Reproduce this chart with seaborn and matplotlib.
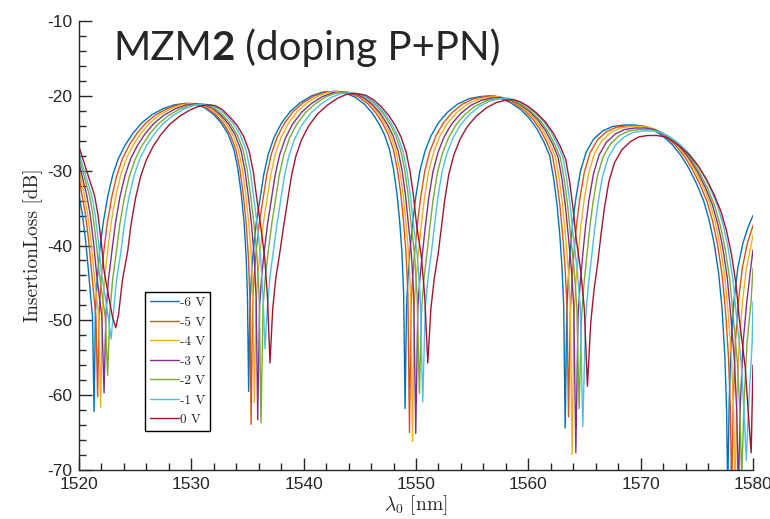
import numpy as np
import pandas as pd
import seaborn as sns
import matplotlib.pyplot as plt
from matplotlib.lines import Line2D
from matplotlib.ticker import MultipleLocator

sns.set_style("ticks")
plt.rcParams["font.family"] = ["Liberation Sans", "DejaVu Sans"]
plt.rcParams["axes.unicode_minus"] = False

voltages = ["-6 V", "-5 V", "-4 V", "-3 V", "-2 V", "-1 V", "0 V"]
colors = ["#0072BD", "#D95319", "#EDB120", "#7E2F8E", "#77AC30", "#4DBEEE", "#A2142F"]

# -6 V trace: (wavelength nm, insertion loss dB)
base_trace = [
    (1520.00, -33.3), (1520.30, -35.8), (1520.60, -39.5), (1520.85, -43.5), (1521.05, -47.0),
    (1521.20, -49.5), (1521.34, -62.2), (1521.46, -49.0), (1521.62, -44.5), (1521.85, -40.6),
    (1522.15, -37.0), (1522.55, -33.5), (1523.00, -30.6), (1523.50, -28.4), (1524.10, -26.6),
    (1524.80, -25.0), (1525.60, -23.6), (1526.50, -22.5), (1527.50, -21.7), (1528.50, -21.2),
    (1529.50, -21.0), (1530.40, -21.1), (1531.20, -21.6), (1532.00, -22.5), (1532.70, -23.7),
    (1533.30, -25.2), (1533.80, -27.2), (1534.15, -29.8), (1534.45, -33.2), (1534.70, -37.0),
    (1534.88, -41.5), (1535.00, -47.0), (1535.10, -59.5), (1535.22, -48.0), (1535.35, -44.0),
    (1535.52, -40.6), (1535.78, -37.0), (1536.10, -33.9), (1536.45, -30.5), (1536.85, -27.8),
    (1537.35, -25.6), (1538.00, -23.7), (1538.80, -22.1), (1539.70, -20.9), (1540.70, -20.0),
    (1541.70, -19.5), (1542.70, -19.4), (1543.70, -19.6), (1544.60, -20.2), (1545.40, -21.1),
    (1546.10, -22.3), (1546.70, -23.7), (1547.20, -25.2), (1547.65, -27.2), (1548.00, -29.8),
    (1548.30, -33.0), (1548.55, -36.8), (1548.75, -41.0), (1548.90, -46.5), (1549.03, -61.8),
    (1549.16, -48.0), (1549.30, -44.0), (1549.47, -40.6), (1549.70, -37.0), (1549.98, -33.5),
    (1550.35, -30.0), (1550.80, -27.4), (1551.35, -25.3), (1552.00, -23.6), (1552.80, -22.2),
    (1553.70, -21.1), (1554.70, -20.4), (1555.70, -20.1), (1556.60, -20.0), (1557.50, -20.3),
    (1558.40, -20.9), (1559.30, -21.8), (1560.10, -23.0), (1560.80, -24.5), (1561.40, -26.2),
    (1561.90, -28.0), (1562.25, -31.0), (1562.55, -34.5), (1562.80, -38.5), (1563.00, -43.0),
    (1563.15, -48.0), (1563.28, -64.4), (1563.42, -49.0), (1563.56, -44.5), (1563.73, -40.6),
    (1563.95, -37.0), (1564.25, -33.5), (1564.65, -30.0), (1565.15, -27.5), (1565.80, -25.8),
    (1566.60, -24.7), (1567.50, -24.1), (1568.50, -23.9), (1569.50, -23.9), (1570.40, -24.1),
    (1571.20, -24.6), (1572.00, -25.4), (1572.80, -26.5), (1573.60, -28.0), (1574.30, -29.7),
    (1575.00, -31.8), (1575.60, -34.0), (1576.10, -36.6), (1576.55, -39.8), (1576.95, -43.8),
    (1577.25, -48.5), (1577.50, -55.0), (1577.65, -62.0), (1577.75, -73.0), (1577.88, -61.0),
    (1578.05, -53.0), (1578.30, -47.5), (1578.65, -43.0), (1579.10, -39.7), (1579.55, -37.6),
    (1580.00, -36.0),
]
base_notch = [1521.34, 1535.10, 1549.03, 1563.28, 1577.75]
base_peak = [1529.5, 1542.7, 1556.6, 1569.0]

# notch positions (nm) and depths (dB) for every bias
notch_wl = {
    "-6 V": [1521.34, 1535.10, 1549.03, 1563.28, 1577.75],
    "-5 V": [1521.66, 1535.32, 1549.42, 1563.58, 1578.10],
    "-4 V": [1521.93, 1535.61, 1549.69, 1563.90, 1578.40],
    "-3 V": [1522.23, 1535.91, 1549.98, 1564.23, 1578.70],
    "-2 V": [1522.55, 1536.20, 1550.30, 1564.52, 1579.00],
    "-1 V": [1522.85, 1536.56, 1550.60, 1564.85, 1579.40],
    "0 V": [1523.27, 1537.00, 1551.05, 1565.26, 1579.84],
}
notch_depth = {
    "-6 V": [-62.2, -59.5, -61.8, -64.4, -73.0],
    "-5 V": [-60.2, -63.9, -65.0, -62.9, -73.0],
    "-4 V": [-61.6, -61.0, -66.2, -67.9, -73.0],
    "-3 V": [-59.7, -63.3, -65.1, -67.7, -73.0],
    "-2 V": [-57.4, -63.7, -59.8, -61.8, -71.0],
    "-1 V": [-52.5, -53.8, -60.9, -64.2, -68.7],
    "0 V": [-51.0, -55.7, -55.7, -58.8, -67.7],
}
# extra half-width of the notches compared with -6 V (nm)
notch_widen = {"-6 V": 0.0, "-5 V": 0.05, "-4 V": 0.12, "-3 V": 0.2,
               "-2 V": 0.28, "-1 V": 0.38, "0 V": 0.55}
# level change of each arc (before notch 1 ... after notch 5) vs -6 V
arc_offset = {
    "-6 V": [0, 0, 0, 0, 0, 0],
    "-5 V": [0, 0, 0, 0, -0.1, 0],
    "-4 V": [0, 0, 0, -0.1, -0.2, 0],
    "-3 V": [0, -0.05, -0.1, -0.2, -0.4, 0],
    "-2 V": [0, -0.1, -0.1, -0.3, -0.6, 0],
    "-1 V": [0, -0.1, -0.2, -0.3, -0.8, 0],
    "0 V": [0, -0.2, -0.3, -0.5, -1.4, 0],
}
edge_left = [-33.3, -30.8, -29.8, -29.0, -28.3, -27.7, -26.8]
edge_right = [-36.0, -37.3, -38.6, -40.6, -43.0, -47.5, -56.0]


def build_trace(v, i):
    wl0, il0 = np.array(base_trace).T
    n0 = np.array(base_notch)
    pk = np.array(base_peak)
    near = np.searchsorted(pk, wl0)          # notch that owns each point
    d = wl0 - n0[near]
    to_peak = np.abs(wl0[:, None] - pk[None, :]).min(axis=1)
    side = np.clip(np.abs(d) / 0.5, 0, 1) * np.clip(to_peak / 2.5, 0, 1) * np.sign(d)
    arc = np.searchsorted(n0, wl0)
    wl = wl0 + (np.array(notch_wl[v]) - n0)[near] + notch_widen[v] * side
    il = il0 + np.array(arc_offset[v])[arc]
    bottom = np.isin(wl0, n0)
    il[bottom] = np.array(notch_depth[v])[near[bottom]]
    keep = (wl > 1520) & (wl < 1580)
    wl = np.r_[1520, wl[keep], 1580]
    il = np.r_[edge_left[i], il[keep], edge_right[i]]
    return pd.DataFrame({"wl": wl, "il": il, "V": v})


df = pd.concat([build_trace(v, i) for i, v in enumerate(voltages)], ignore_index=True)

fig = plt.figure(figsize=(7.7, 5.19), dpi=100)
ax = fig.add_axes([0.1026, 0.0944, 0.8753, 0.8651])
sns.lineplot(data=df, x="wl", y="il", hue="V", hue_order=voltages, palette=colors,
             sort=False, estimator=None, lw=1.0, legend=False, ax=ax)

ax.set_xlim(1520, 1580)
ax.set_ylim(-70, -10)
ax.xaxis.set_major_locator(MultipleLocator(10))
ax.xaxis.set_minor_locator(MultipleLocator(2))
ax.yaxis.set_major_locator(MultipleLocator(10))
ax.yaxis.set_minor_locator(MultipleLocator(2))
ax.tick_params(which="both", direction="in", colors="#262626", width=1.0, labelsize=12.5, pad=5)
ax.tick_params(which="major", length=9)
ax.tick_params(which="minor", length=5)
sns.despine(ax=ax)
for s in ["left", "bottom"]:
    ax.spines[s].set_color("#262626")
    ax.spines[s].set_linewidth(1.0)

ax.set_xlabel(r"$\lambda_0$ [nm]", family="cmr10", math_fontfamily="cm", fontsize=14, labelpad=1)
ax.set_ylabel("InsertionLoss [dB]", family="cmr10", fontsize=14, labelpad=3)

handles = [Line2D([], [], color=c, lw=1.0) for c in colors]
leg = ax.legend(handles, voltages, loc="upper left", bbox_to_anchor=(0.098, 0.396),
                borderaxespad=0, frameon=True, fancybox=False, edgecolor="black",
                prop={"family": "cmr10", "size": 9.5}, handlelength=2.2, handletextpad=0.1,
                labelspacing=0.55, borderpad=0.35, framealpha=1)
leg.get_frame().set_linewidth(1.0)

# title drawn in pieces so that only the "2" is bold
r = fig.canvas.get_renderer()
x = 0.0504
for s, w in [("MZM", "normal"), ("2", "bold"), (" (doping P+PN)", "normal")]:
    t = ax.text(x, 0.913, s, transform=ax.transAxes, fontsize=29, family="Lato",
                fontweight=w, va="baseline", ha="left")
    bb = t.get_window_extent(r)
    x = ax.transAxes.inverted().transform((bb.x1, bb.y0))[0]

fig.savefig("out.png", dpi=100)
